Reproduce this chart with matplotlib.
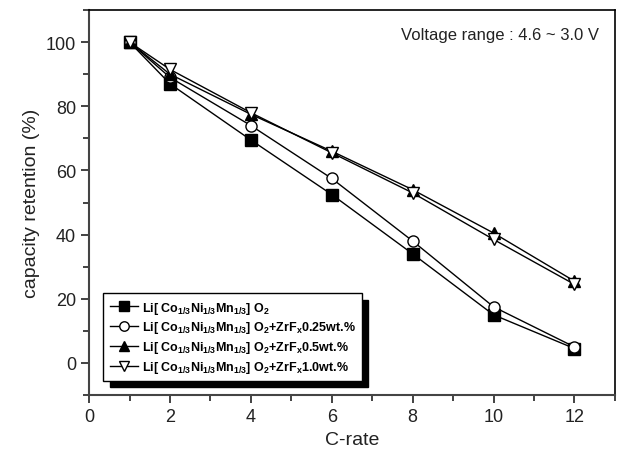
import matplotlib
matplotlib.use("Agg")
import matplotlib.pyplot as plt
from matplotlib.ticker import MultipleLocator

plt.rcParams['font.family'] = ['Liberation Sans', 'DejaVu Sans']
plt.rcParams['mathtext.fontset'] = 'custom'
plt.rcParams['mathtext.rm'] = 'Liberation Sans:bold'
plt.rcParams['mathtext.bf'] = 'Liberation Sans:bold'
plt.rcParams['mathtext.it'] = 'Liberation Sans:bold'
plt.rcParams['mathtext.default'] = 'bf'

# data
c_rate = [1, 2, 4, 6, 8, 10, 12]
bare = [100, 87, 69.5, 52.5, 34, 15, 4.5]
zrf_025 = [100, 89, 74, 57.5, 38, 17.5, 5]
zrf_05 = [100, 90, 77.5, 66, 54, 40.5, 25.5]
zrf_10 = [100, 91.5, 78, 65.5, 53, 38.5, 24.5]

base = 'Li[ Co$_{1/3}$Ni$_{1/3}$Mn$_{1/3}$] O$_2$'
labels = [base,
          base + '+ZrF$_x$0.25wt.%',
          base + '+ZrF$_x$0.5wt.%',
          base + '+ZrF$_x$1.0wt.%']

fig = plt.figure(figsize=(6.23, 4.60), dpi=100)
ax = fig.add_axes([0.143, 0.139, 0.844, 0.837])

ax.plot(c_rate, bare, '-s', color='black', mfc='black', mec='black', ms=8, lw=1, label=labels[0])
ax.plot(c_rate, zrf_025, '-o', color='black', mfc='white', mec='black', ms=8, lw=1, label=labels[1])
ax.plot(c_rate, zrf_05, '-^', color='black', mfc='black', mec='black', ms=9, lw=1, label=labels[2])
ax.plot(c_rate, zrf_10, '-v', color='black', mfc='white', mec='black', ms=9, lw=1, label=labels[3])

ax.set_xlim(0, 13)
ax.set_ylim(-10, 110)
ax.xaxis.set_major_locator(MultipleLocator(2))
ax.xaxis.set_minor_locator(MultipleLocator(1))
ax.yaxis.set_major_locator(MultipleLocator(20))
ax.yaxis.set_minor_locator(MultipleLocator(10))
ax.tick_params(which='both', direction='out', top=False, right=False,
               labelsize=13, colors='#222')
ax.tick_params(which='major', length=6, width=1.2)
ax.tick_params(which='minor', length=4, width=1.2)
for side in ['left', 'bottom']:
    ax.spines[side].set_color('#444')
    ax.spines[side].set_linewidth(1.5)
for side in ['top', 'right']:
    ax.spines[side].set_color('black')
    ax.spines[side].set_linewidth(1.2)

ax.set_xlabel('C-rate', fontsize=14, color='#222')
ax.set_ylabel('capacity retention (%)', fontsize=14, color='#222')

ax.text(0.97, 0.955, 'Voltage range : 4.6 ~ 3.0 V', transform=ax.transAxes,
        ha='right', va='top', fontsize=12, color='#222')

leg = ax.legend(loc='lower left', bbox_to_anchor=(0.027, 0.036), borderaxespad=0,
                fancybox=False, edgecolor='black', framealpha=1,
                shadow={'ox': 4.5, 'oy': -4.5, 'facecolor': 'black', 'edgecolor': 'black', 'alpha': 1},
                prop={'weight': 'bold', 'size': 9}, handlelength=2.3, markerscale=0.85,
                handletextpad=0.3, labelspacing=0.3, borderpad=0.5)
leg.get_frame().set_linewidth(1)

fig.savefig('out.png', dpi=100)
